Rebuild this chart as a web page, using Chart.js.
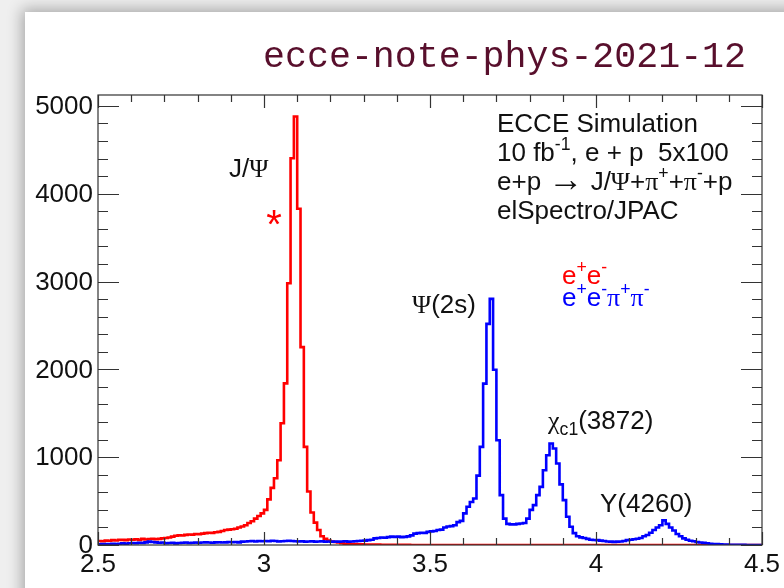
<!DOCTYPE html>
<html>
<head>
<meta charset="utf-8">
<script src="https://cdn.jsdelivr.net/npm/chart.js@4.4.1/dist/chart.umd.min.js"></script>
<style>
html, body { margin:0; padding:0; width:784px; height:588px; overflow:hidden; background:#efefef; }
#card { position:absolute; left:25px; top:12px; width:820px; height:640px; background:#fff; box-shadow:0 0 14px 3px rgba(0,0,0,0.30); }
#c { position:absolute; left:0; top:0; }
</style>
</head>
<body>
<div id="card"></div>
<canvas id="c" width="784" height="588"></canvas>
<script>
// histogram binning (GeV)
const bin_low = 2.5
const bin_width = 0.01
const x_min = 2.5
const x_max = 4.5
const y_max = 5124
const x_ticks = [2.5, 3, 3.5, 4, 4.5]
const x_minor = 0.1
const y_ticks = [0, 1000, 2000, 3000, 4000, 5000]
const y_minor = 200

// e+e- (red)
const ee_counts = [
  45, 42, 50, 48, 55, 52, 60, 58, 55, 62,
  60, 65, 58, 70, 62, 68, 72, 65, 70, 75,
  80, 85, 95, 105, 110, 108, 115, 120, 118, 125,
  122, 130, 135, 140, 138, 145, 150, 160, 170, 175,
  180, 185, 200, 210, 225, 250, 270, 300, 330, 360,
  400, 520, 650, 760, 965, 1386, 1840, 2980, 4404, 4880,
  3828, 2253, 1117, 610, 370, 255, 170, 100, 70, 50,
  40, 35, 30, 20, 15, 12, 10, 10, 8, 8,
  6, 5, 5, 4, 4, 3, 3, 2, 2, 2,
  1, 1, 1, 1, 0, 0, 0, 0, 0, 0,
  0, 0, 0, 0, 0, 0, 0, 0, 0, 0,
  0, 0, 0, 0, 0, 0, 0, 0, 0, 0,
  0, 0, 0, 0, 0, 0, 0, 0, 0, 0,
  0, 0, 0, 0, 0, 0, 0, 0, 0, 0,
  0, 0, 0, 0, 0, 0, 0, 0, 0, 0,
  0, 0, 0, 0, 0, 0, 0, 0, 0, 0,
  0, 0, 0, 0, 0, 0, 0, 0, 0, 0,
  0, 0, 0, 0, 0, 0, 0, 0, 0, 0,
  0, 0, 0, 0, 0, 0, 0, 0, 0, 0,
  0, 0, 0, 0, 0, 0, 0, 0, 0, 0
]

// e+e-pi+pi- (blue)
const eepipi_counts = [
  8, 10, 12, 10, 15, 12, 15, 18, 15, 20,
  22, 20, 25, 22, 30, 38, 35, 30, 25, 28,
  20, 22, 25, 18, 22, 25, 28, 22, 25, 28,
  25, 28, 30, 28, 25, 30, 32, 28, 30, 35,
  32, 35, 30, 38, 40, 42, 45, 40, 45, 42,
  45, 42, 48, 45, 40, 42, 45, 48, 45, 42,
  40, 42, 38, 40, 42, 38, 40, 42, 38, 40,
  38, 40, 38, 40, 42, 38, 40, 42, 45, 48,
  50, 55, 60, 75, 80, 85, 82, 90, 95, 92,
  95, 90, 92, 98, 110, 130, 135, 140, 138, 150,
  155, 160, 170, 175, 200, 210, 215, 225, 260, 275,
  360, 435, 490, 530, 790, 1117, 1837, 2518, 2802, 1996,
  1193, 568, 300, 240, 235, 235, 240, 245, 250, 300,
  400, 454, 568, 662, 852, 1022, 1155, 1098, 928, 690,
  511, 322, 208, 135, 100, 87, 80, 70, 60, 57,
  55, 50, 45, 40, 38, 36, 38, 40, 45, 55,
  60, 65, 72, 80, 100, 114, 140, 170, 200, 225,
  280, 240, 200, 165, 125, 100, 76, 60, 49, 42,
  35, 28, 24, 20, 15, 12, 10, 8, 6, 5,
  3, 2, 2, 1, 1, 0, 0, 0, 0, 0
]

const sans = '"Liberation Sans", Arial, Helvetica, sans-serif'
const greek = '"Liberation Serif", "Times New Roman", serif'

// histogram outline: each bin gives its left and right corner
const toSteps = (counts) => {
  let pts = []
  counts.forEach((v, i) => {
    pts.push({x: bin_low + i * bin_width, y: v})
    pts.push({x: bin_low + (i + 1) * bin_width, y: v})
  })
  return pts
}

// text with greek letters, super and subscripts
const rich = (ctx, x, y, parts, size, color) => {
  let cx = x
  ctx.fillStyle = color
  ctx.textAlign = 'left'
  ctx.textBaseline = 'alphabetic'
  parts.forEach(([t, k]) => {
    let fs = size, dy = 0, fam = sans
    if (k === 'g') fam = greek
    if (k === 'arrow') { fam = greek; fs = size * 1.35; dy = 1 }
    if (k === 'sup') { fs = size * 0.68; dy = -size * 0.42 }
    if (k === 'sub') { fs = size * 0.68; dy = size * 0.22 }
    ctx.font = fs + 'px ' + fam
    ctx.fillText(t, cx, y + dy)
    cx += ctx.measureText(t).width
  })
}

const rootFrame = {
  id: 'rootFrame',
  afterDatasetsDraw(chart) {
    const ctx = chart.ctx
    const a = chart.chartArea
    const xs = chart.scales.x, ys = chart.scales.y
    ctx.save()
    ctx.strokeStyle = '#333'
    ctx.lineWidth = 1.2
    ctx.strokeRect(a.left, a.top, a.right - a.left, a.bottom - a.top)
    ctx.beginPath()
    // x ticks (bottom and top, pointing in)
    for (let v = x_min; v <= x_max + 1e-9; v += x_minor) {
      const px = Math.round(xs.getPixelForValue(v)) + 0.5
      const major = x_ticks.some(t => Math.abs(t - v) < 1e-6)
      const len = major ? 13 : 7
      ctx.moveTo(px, a.bottom); ctx.lineTo(px, a.bottom - len)
      ctx.moveTo(px, a.top); ctx.lineTo(px, a.top + len)
    }
    // y ticks (left and right, pointing in)
    for (let v = 0; v <= y_max; v += y_minor) {
      const py = Math.round(ys.getPixelForValue(v)) + 0.5
      const major = y_ticks.includes(v)
      const len = major ? 21 : 10
      ctx.moveTo(a.left, py); ctx.lineTo(a.left + len, py)
      ctx.moveTo(a.right, py); ctx.lineTo(a.right - len, py)
    }
    ctx.stroke()

    ctx.fillStyle = '#111'
    ctx.font = '26px ' + sans
    ctx.textAlign = 'right'
    ctx.textBaseline = 'middle'
    y_ticks.forEach(v => ctx.fillText(String(v), a.left - 5, ys.getPixelForValue(v) + 1))
    ctx.textAlign = 'center'
    ctx.textBaseline = 'alphabetic'
    x_ticks.forEach(v => ctx.fillText(String(v), xs.getPixelForValue(v), 572))

    // title
    ctx.font = '36.6px "Liberation Mono", "Courier New", monospace'
    ctx.fillStyle = '#580f2c'
    ctx.textAlign = 'right'
    ctx.fillText('ecce-note-phys-2021-12', 746, 67)

    // info block
    const ink = '#111'
    rich(ctx, 497, 132, [['ECCE Simulation', 'n']], 26, ink)
    rich(ctx, 497, 161, [['10 fb', 'n'], ['-1', 'sup'], [', e + p  5x100', 'n']], 26, ink)
    rich(ctx, 497, 190, [['e+p ', 'n'], ['\u2192', 'arrow'], [' J/', 'n'], ['\u03A8', 'g'], ['+', 'n'], ['\u03C0', 'g'], ['+', 'sup'], ['+', 'n'], ['\u03C0', 'g'], ['-', 'sup'], ['+p', 'n']], 26, ink)
    rich(ctx, 497, 219, [['elSpectro/JPAC', 'n']], 26, ink)

    // legend
    rich(ctx, 562, 284, [['e', 'n'], ['+', 'sup'], ['e', 'n'], ['-', 'sup']], 26, '#ff0000')
    rich(ctx, 562, 306, [['e', 'n'], ['+', 'sup'], ['e', 'n'], ['-', 'sup'], ['\u03C0', 'g'], ['+', 'sup'], ['\u03C0', 'g'], ['-', 'sup']], 26, '#0000ff')

    // peak labels
    rich(ctx, 229, 177, [['J/', 'n'], ['\u03A8', 'g']], 26, ink)
    rich(ctx, 412, 313, [['\u03A8', 'g'], ['(2s)', 'n']], 26, ink)
    rich(ctx, 548, 429, [['\u03C7', 'g'], ['c1', 'sub'], ['(3872)', 'n']], 26, ink)
    rich(ctx, 600, 512, [['Y(4260)', 'n']], 26, ink)

    ctx.fillStyle = '#ff0000'
    ctx.font = '40px ' + sans
    ctx.textAlign = 'center'
    ctx.fillText('*', 274, 238)
    ctx.restore()
  }
}

const chart = new Chart(document.getElementById('c').getContext('2d'), {
  type: 'line',
  data: {
    datasets: [{
      label: 'e+e-pi+pi-',
      data: toSteps(eepipi_counts),
      borderColor: '#0000ff',
      borderWidth: 2.6,
      pointRadius: 0,
      tension: 0,
      fill: false,
      order: 0
    }, {
      label: 'e+e-',
      data: toSteps(ee_counts),
      borderColor: '#ff0000',
      borderWidth: 2.6,
      pointRadius: 0,
      tension: 0,
      fill: false,
      order: 1
    }]
  },
  options: {
    responsive: false,
    animation: false,
    layout: { padding: { left: 0, top: 95, right: 22, bottom: 0 } },
    plugins: { legend: { display: false }, tooltip: { enabled: false } },
    scales: {
      x: {
        type: 'linear', min: x_min, max: x_max,
        grid: { display: false }, border: { display: false },
        ticks: { display: false },
        afterFit: s => { s.height = 43 }
      },
      y: {
        type: 'linear', min: 0, max: y_max,
        grid: { display: false }, border: { display: false },
        ticks: { display: false },
        afterFit: s => { s.width = 98 }
      }
    }
  },
  plugins: [rootFrame]
})
</script>
</body>
</html>
